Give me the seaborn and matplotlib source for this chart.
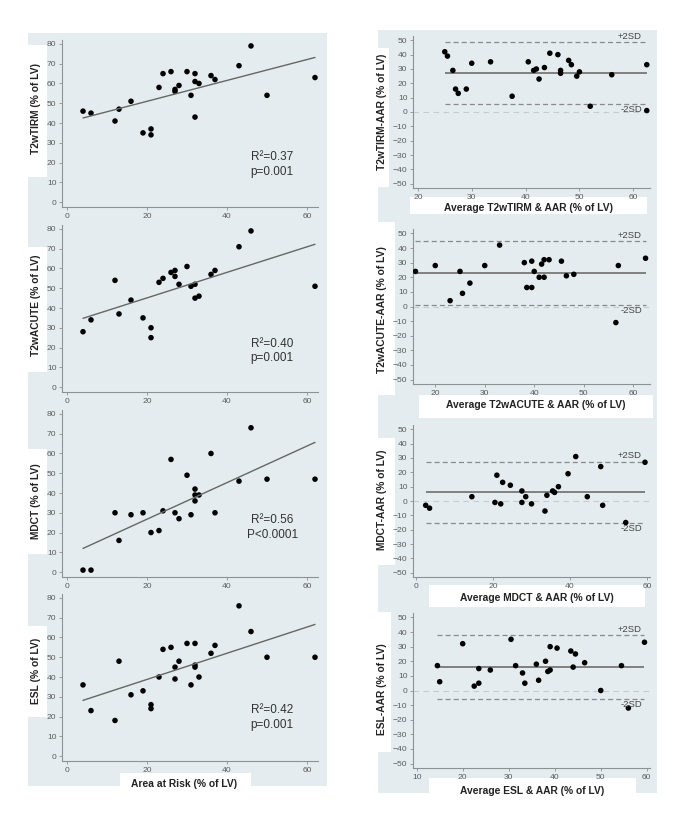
import matplotlib
matplotlib.use("Agg")
import matplotlib.pyplot as plt
import matplotlib.transforms as mtransforms
from matplotlib.patches import Rectangle
import seaborn as sns

W, H = 685, 827
BG = "#e4ecef"
AXC = "#8c9194"

# --- area at risk vs. each method (left column) ---
tirm_aar = [4, 6, 12, 13, 16, 19, 21, 21, 23, 24, 26, 27, 27, 28, 30, 31, 32, 32, 32, 33, 36, 37, 43, 46, 50, 62]
tirm = [46, 45, 41, 47, 51, 35, 37, 34, 58, 65, 66, 57, 56, 59, 66, 54, 65, 61, 43, 60, 64, 62, 69, 79, 54, 63]

acute_aar = [4, 6, 12, 13, 16, 19, 21, 21, 23, 24, 26, 27, 27, 28, 30, 31, 32, 32, 33, 36, 37, 43, 46, 62]
acute = [28, 34, 54, 37, 44, 35, 30, 25, 53, 55, 58, 59, 56, 52, 61, 51, 52, 45, 46, 57, 59, 71, 79, 51]

mdct_aar = [4, 6, 12, 13, 16, 19, 21, 23, 24, 26, 27, 28, 30, 31, 32, 32, 32, 33, 36, 37, 43, 46, 50, 62]
mdct = [1, 1, 30, 16, 29, 30, 20, 21, 31, 57, 30, 27, 49, 29, 42, 39, 36, 39, 60, 30, 46, 73, 47, 47]

esl_aar = [4, 6, 12, 13, 16, 19, 21, 21, 23, 24, 26, 27, 27, 28, 30, 31, 32, 32, 32, 33, 36, 37, 43, 46, 50, 62]
esl = [36, 23, 18, 48, 31, 33, 26, 24, 40, 54, 55, 45, 39, 48, 57, 36, 57, 46, 45, 40, 52, 56, 76, 63, 50, 50]

stats = [("R²=0.37", "p=0.001"), ("R²=0.40", "p=0.001"),
         ("R²=0.56", "P<0.0001"), ("R²=0.42", "p=0.001")]

# --- Bland-Altman (right column) ---
tirm_avg = [25, 25.5, 26.5, 30, 33.5, 27, 29, 27.5, 40.5, 44.5, 46, 42, 41.5, 43.5, 48, 42.5, 48.5, 46.5, 37.5, 46.5, 50, 49.5, 56, 62.5, 52, 62.5]
tirm_diff = [42, 39, 29, 34, 35, 16, 16, 13, 35, 41, 40, 30, 29, 31, 36, 23, 33, 29, 11, 27, 28, 25, 26, 33, 4, 1]

acute_avg = [16, 20, 33, 25, 30, 27, 25.5, 23, 38, 39.5, 42, 43, 41.5, 40, 45.5, 41, 42, 38.5, 39.5, 46.5, 48, 57, 62.5, 56.5]
acute_diff = [24, 28, 42, 24, 28, 16, 9, 4, 30, 31, 32, 32, 29, 24, 31, 20, 20, 13, 13, 21, 22, 28, 33, -11]

mdct_avg = [2.5, 3.5, 21, 14.5, 22.5, 24.5, 20.5, 22, 27.5, 41.5, 28.5, 27.5, 39.5, 30, 37, 35.5, 34, 36, 48, 33.5, 44.5, 59.5, 48.5, 54.5]
mdct_diff = [-3, -5, 18, 3, 13, 11, -1, -2, 7, 31, 3, -1, 19, -2, 10, 7, 4, 6, 24, -7, 3, 27, -3, -15]

esl_avg = [20, 14.5, 15, 30.5, 23.5, 26, 23.5, 22.5, 31.5, 39, 40.5, 36, 33, 38, 43.5, 33.5, 44.5, 39, 38.5, 36.5, 44, 46.5, 59.5, 54.5, 50, 56]
esl_diff = [32, 17, 6, 35, 15, 14, 5, 3, 17, 30, 29, 18, 12, 20, 27, 5, 25, 14, 13, 7, 16, 19, 33, 17, 0, -12]

bias = [27.2, 22.6, 6.0, 16.0]
upper = [48.6, 44.5, 27.4, 38.0]
lower = [5.7, 0.9, -15.6, -6.0]

sns.set_theme(style="ticks")
plt.rcParams["font.family"] = ["Liberation Sans", "DejaVu Sans"]

fig = plt.figure(figsize=(W / 100, H / 100), dpi=100)
fig.patch.set_facecolor("white")


def px(x0, y0, x1, y1):
    return [x0 / W, 1 - y1 / H, (x1 - x0) / W, (y1 - y0) / H]


def box(x0, y0, x1, y1, color, z):
    fig.patches.append(Rectangle((x0 / W, 1 - y1 / H), (x1 - x0) / W, (y1 - y0) / H,
                                 transform=fig.transFigure, facecolor=color,
                                 edgecolor="none", zorder=z))


def label(x, y, s, rot=0):
    fig.text(x / W, 1 - y / H, s, rotation=rot, ha="center", va="center",
             fontsize=7.4, fontweight="bold", color="#222")


def style(ax):
    sns.despine(ax=ax)
    for s in ("left", "bottom"):
        ax.spines[s].set_color(AXC)
        ax.spines[s].set_linewidth(0.8)
    ax.tick_params(length=2.5, width=0.6, color=AXC, labelsize=6.1,
                   labelcolor="#5c5c5c", pad=1.5)
    ax.set_xlabel("")
    ax.set_ylabel("")
    ax.set_facecolor("none")


# grey graph regions
box(28, 33, 327, 786, BG, -2)
box(378, 30, 657, 793, BG, -2)

# left column: scatter + fitted line
left = [(40, tirm_aar, tirm, "T2wTIRM (% of LV)", 108, (22.8, 15.2)),
        (225, acute_aar, acute, "T2wACUTE (% of LV)", 305, (21.9, 14.8)),
        (410, mdct_aar, mdct, "MDCT (% of LV)", 501, (26.2, 19.0)),
        (594, esl_aar, esl, "ESL (% of LV)", 671, (23.5, 15.8))]
lboxes = [(45, 177), (247, 372), (449, 554), (626, 717)]

for i, (top, x, y, ylab, ly, sy) in enumerate(left):
    ax = fig.add_axes(px(62, top, 318, top + 167))
    sns.regplot(x=x, y=y, ax=ax, scatter=False, ci=None, truncate=True,
                line_kws=dict(color="#666", lw=1.0))
    sns.scatterplot(x=x, y=y, ax=ax, color="black", s=16, edgecolor="none")
    ax.set_xlim(-1.25, 62.75)
    ax.set_ylim(-2.5, 82)
    ax.set_xticks([0, 20, 40, 60])
    ax.set_yticks(range(0, 81, 10))
    style(ax)
    ax.text(51.3, sy[0], stats[i][0], ha="center", va="center", fontsize=8.5, color="#333")
    ax.text(51.3, sy[1], stats[i][1], ha="center", va="center", fontsize=8.5, color="#333")
    box(18, lboxes[i][0], 47, lboxes[i][1], "white", -1)
    label(36, ly, ylab, rot=90)

box(120, 773, 251, 795, "white", -1)
label(184, 784, "Area at Risk (% of LV)")

# right column: Bland-Altman
right = [(36, 152, tirm_avg, tirm_diff, (19.1, 63.1), [20, 30, 40, 50, 60],
          "T2wTIRM-AAR (% of LV)", 112, "Average T2wTIRM & AAR (% of LV)", (528, 208)),
         (229, 155, acute_avg, acute_diff, (15.5, 63.4), [20, 30, 40, 50, 60],
          "T2wACUTE-AAR (% of LV)", 310, "Average T2wACUTE & AAR (% of LV)", (536, 405)),
         (425, 152, mdct_avg, mdct_diff, (-0.8, 60.8), [0, 20, 40, 60],
          "MDCT-AAR (% of LV)", 500, "Average MDCT & AAR (% of LV)", (537, 598)),
         (613, 155, esl_avg, esl_diff, (9.2, 60.7), [10, 20, 30, 40, 50, 60],
          "ESL-AAR (% of LV)", 689, "Average ESL & AAR (% of LV)", (532, 791))]
rybox = [(48, 187, 389), (222, 395, 395), (438, 565, 395), (612, 752, 391)]
rxbox = [(410, 197, 647, 214), (419, 395, 653, 418), (429, 585, 645, 607), (429, 778, 636, 800)]

for i, (top, h, xa, ya, xlim, xt, ylab, ly, xlab, xl) in enumerate(right):
    ax = fig.add_axes(px(413, top, 650, top + h))
    ax.axhline(0, color="#c5ccd0", lw=0.8, ls=(0, (5, 4)), zorder=1)
    lo, hi = min(xa), max(xa)
    ax.hlines(bias[i], lo, hi, color="#777", lw=1.3, zorder=2)
    ax.hlines([upper[i], lower[i]], lo, hi, color="#8a8a8a", lw=0.9,
              linestyles=[(0, (4, 2.5))], zorder=2)
    sns.scatterplot(x=xa, y=ya, ax=ax, color="black", s=16, edgecolor="none", zorder=3)
    ax.set_xlim(*xlim)
    ax.set_ylim(-53, 53)
    ax.set_xticks(xt)
    ax.set_yticks(range(-50, 51, 10))
    style(ax)
    tr = mtransforms.blended_transform_factory(ax.transAxes, ax.transData)
    ax.annotate("+2SD", (0.966, upper[i]), xycoords=tr, xytext=(0, 1),
                textcoords="offset points", ha="right", va="bottom",
                fontsize=6.8, color="#444")
    ax.annotate("-2SD", (0.966, lower[i]), xycoords=tr, xytext=(0, -0.5),
                textcoords="offset points", ha="right", va="top",
                fontsize=6.8, color="#444")
    box(368, rybox[i][0], rybox[i][2], rybox[i][1], "white", -1)
    label(382, ly, ylab, rot=90)
    box(*rxbox[i], "white", -1)
    label(xl[0], xl[1], xlab)

fig.savefig("out.png", dpi=100, facecolor="white")
